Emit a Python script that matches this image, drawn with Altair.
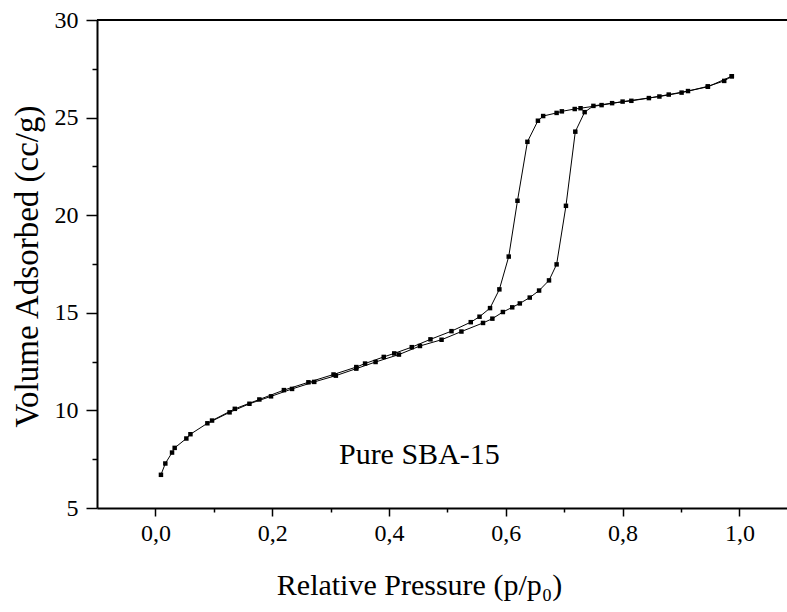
import altair as alt
import pandas as pd

# Adsorption branch (relative pressure, volume adsorbed)
ads_p = [0.0095, 0.017, 0.0285, 0.033, 0.053, 0.06, 0.089, 0.127, 0.161, 0.198,
         0.234, 0.272, 0.309, 0.344, 0.377, 0.417, 0.453, 0.49, 0.524, 0.561,
         0.577, 0.595, 0.611, 0.624, 0.641, 0.657, 0.674, 0.687, 0.703, 0.719,
         0.735, 0.75, 0.782, 0.815, 0.845, 0.879, 0.912, 0.946, 0.987]
ads_v = [6.7, 7.28, 7.84, 8.08, 8.56, 8.78, 9.34, 9.9, 10.34, 10.72,
         11.1, 11.46, 11.78, 12.14, 12.48, 12.86, 13.3, 13.62, 14.04, 14.48,
         14.7, 15.04, 15.28, 15.48, 15.78, 16.14, 16.66, 17.48, 20.48, 24.28,
         25.28, 25.6, 25.74, 25.86, 26.0, 26.18, 26.36, 26.58, 27.12]

# Desorption branch
des_p = [0.987, 0.974, 0.946, 0.901, 0.863, 0.8, 0.764, 0.728, 0.718, 0.696,
         0.687, 0.664, 0.655, 0.637, 0.62, 0.605, 0.589, 0.573, 0.555, 0.54,
         0.507, 0.471, 0.439, 0.409, 0.391, 0.359, 0.344, 0.305, 0.262, 0.22,
         0.178, 0.136, 0.097]
des_v = [27.12, 26.88, 26.6, 26.28, 26.08, 25.82, 25.64, 25.48, 25.44, 25.32,
         25.24, 25.08, 24.84, 23.76, 20.74, 17.88, 16.2, 15.24, 14.8, 14.52,
         14.06, 13.64, 13.24, 12.92, 12.74, 12.4, 12.22, 11.84, 11.44, 11.04,
         10.56, 10.08, 9.48]

x_ticks = [0.0, 0.1, 0.2, 0.3, 0.4, 0.5, 0.6, 0.7, 0.8, 0.9, 1.0]
y_ticks = [5, 7.5, 10, 12.5, 15, 17.5, 20, 22.5, 25, 27.5, 30]

label_text = ["Pure SBA-15"]
label_p = [0.452]
label_v = [7.7]

rows = []
for i, (p, v) in enumerate(zip(ads_p, ads_v)):
    rows.append({"p": p, "v": v, "branch": "ads", "idx": i})
for i, (p, v) in enumerate(zip(des_p, des_v)):
    rows.append({"p": p, "v": v, "branch": "des", "idx": i})
df = pd.DataFrame(rows)

FONT = "Liberation Serif"

x_scale = alt.Scale(domain=[-0.1, 1.0815], nice=False, zero=False)
y_scale = alt.Scale(domain=[5, 30], nice=False, zero=False)

x_axis = alt.Axis(
    values=x_ticks,
    labelExpr="round(datum.value*10) % 2 == 0 ? replace(format(datum.value, '.1f'), '.', ',') : ''",
    tickSize={"condition": {"test": "round(datum.value*10) % 2 != 0", "value": 4}, "value": 8},
    labelPadding=5,
    labelFont=FONT, labelFontSize=24,
    title="Relative Pressure (p/p₀)",
    titleFontSize=30,
    titleX=322, titleY=86, titleAlign="center", titleBaseline="alphabetic",
)
y_axis = alt.Axis(
    values=y_ticks,
    labelExpr="datum.value % 5 == 0 ? format(datum.value, 'd') : ''",
    tickSize={"condition": {"test": "datum.value % 5 != 0", "value": 5}, "value": 11},
    labelPadding=8,
    labelFont=FONT, labelFontSize=24,
    title="Volume Adsorbed (cc/g)",
    titleFontSize=33,
    titleX=-60, titleY=246, titleAlign="center", titleBaseline="alphabetic", titleAngle=-90,
)

base = alt.Chart(df)
lines = base.mark_line(color="black", strokeWidth=1).encode(
    x=alt.X("p:Q", scale=x_scale, axis=x_axis),
    y=alt.Y("v:Q", scale=y_scale, axis=y_axis),
    detail="branch:N",
    order="idx:Q",
)
points = base.mark_square(size=20, color="black", opacity=1).encode(
    x=alt.X("p:Q", scale=x_scale, axis=x_axis),
    y=alt.Y("v:Q", scale=y_scale, axis=y_axis),
)

top_df = pd.DataFrame({"v": [30]})
top_line = alt.Chart(top_df).mark_rule(color="black", strokeWidth=2).encode(
    y=alt.Y("v:Q", scale=y_scale, axis=y_axis)
)

lab_df = pd.DataFrame({"t": label_text, "p": label_p, "v": label_v})
label = alt.Chart(lab_df).mark_text(
    font=FONT, fontSize=30, color="black", align="center", baseline="middle"
).encode(
    x=alt.X("p:Q", scale=x_scale, axis=x_axis),
    y=alt.Y("v:Q", scale=y_scale, axis=y_axis),
    text="t:N",
)

chart = alt.layer(lines, points, top_line, label).properties(
    width=690, height=488,
    autosize=alt.AutoSizeParams(type="none"),
    padding={"left": 97, "top": 20, "right": 0, "bottom": 104},
    background="white",
).configure_view(
    stroke=None
).configure_axis(
    grid=False,
    domainColor="black", domainWidth=2,
    tickColor="black", tickWidth=1.5,
    labelFont=FONT, labelFontSize=24, labelColor="black",
    labelFlush=False,
    titleFont=FONT, titleFontWeight="normal", titleColor="black",
)

chart.save("out.html", embed_options={"renderer": "svg", "actions": False})
